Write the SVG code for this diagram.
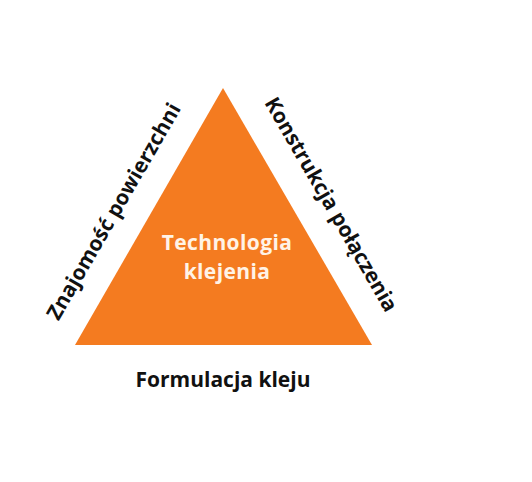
<svg xmlns="http://www.w3.org/2000/svg" width="532" height="482" viewBox="0 0 532 482">
<style>
.lbl{font-family:"Open Sans","Liberation Sans",sans-serif;font-weight:bold;font-size:21px;fill:#111111;text-anchor:middle}
.in{font-family:"Open Sans","Liberation Sans",sans-serif;font-weight:bold;font-size:21px;letter-spacing:0.4px;fill:#FFF3E6;text-anchor:middle}
</style>
<rect width="532" height="482" fill="#ffffff"/>
<g id="triangle">
<polygon points="223,88 75,345 372,345" fill="#F47B20"/>
<text class="in" x="227" y="250">Technologia</text>
<text class="in" x="227" y="279">klejenia</text>
</g>
<g id="left-label">
<text class="lbl" transform="translate(120,215) rotate(-60)" x="0" y="0">Znajomość powierzchni</text>
</g>
<g id="right-label">
<text class="lbl" transform="translate(325,208) rotate(60)" x="0" y="0">Konstrukcja połączenia</text>
</g>
<g id="bottom-label">
<text class="lbl" x="223" y="387">Formulacja kleju</text>
</g>
<g id="connectors"></g>
</svg>
